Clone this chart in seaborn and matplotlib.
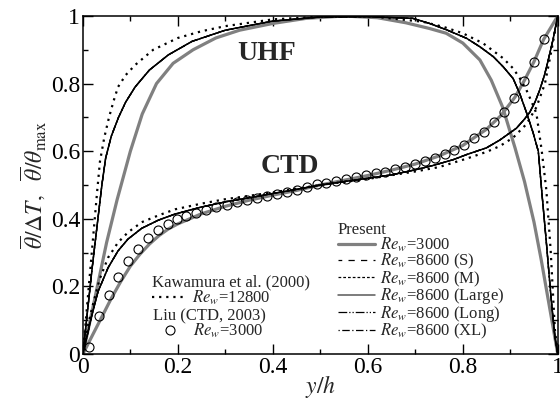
import matplotlib
matplotlib.use('Agg')
import numpy as np
import pandas as pd
import seaborn as sns
import matplotlib.pyplot as plt
from matplotlib.lines import Line2D
from matplotlib.ticker import MultipleLocator, FuncFormatter

# ---------------- data ----------------
# UHF, present Re_w=3000 (gray thick)
uhf3000_x = [0, 0.01, 0.02, 0.035, 0.05, 0.072, 0.1, 0.125, 0.155, 0.19, 0.232, 0.28, 0.33, 0.4, 0.47,
             0.55, 0.62, 0.68, 0.73, 0.765, 0.8, 0.836, 0.86, 0.884, 0.91, 0.93, 0.95, 0.965, 0.98, 0.99, 1.0]
uhf3000_y = [0, 0.065, 0.13, 0.23, 0.33, 0.456, 0.60, 0.71, 0.80, 0.86, 0.90, 0.935, 0.958, 0.978, 0.993,
             1.0, 0.995, 0.98, 0.963, 0.949, 0.92, 0.87, 0.81, 0.73, 0.61, 0.51, 0.39, 0.28, 0.16, 0.08, 0]

# UHF, present Re_w=8600 (all five boxes overlap)
uhf8600_x = [0, 0.01, 0.02, 0.03, 0.04, 0.048, 0.06, 0.075, 0.09, 0.11, 0.14, 0.18, 0.23, 0.3, 0.4, 0.5,
             0.6, 0.695, 0.73, 0.766, 0.808, 0.836, 0.864, 0.885, 0.906, 0.92, 0.934, 0.948, 0.959, 0.967,
             0.976, 0.985, 0.994, 1.0]
uhf8600_y = [0, 0.13, 0.26, 0.38, 0.50, 0.58, 0.645, 0.70, 0.745, 0.79, 0.84, 0.885, 0.925, 0.958, 0.985,
             0.997, 0.998, 0.993, 0.978, 0.959, 0.934, 0.909, 0.88, 0.85, 0.815, 0.77, 0.715, 0.655, 0.60,
             0.47, 0.33, 0.18, 0.05, 0]

# UHF, Kawamura et al. (2000) Re_w=12800
uhfKaw_x = [0, 0.01, 0.02, 0.03, 0.036, 0.045, 0.055, 0.065, 0.074, 0.09, 0.11, 0.148, 0.2, 0.25, 0.3, 0.4,
            0.5, 0.6, 0.716, 0.759, 0.8, 0.843, 0.885, 0.906, 0.92, 0.934, 0.945, 0.955, 0.966, 0.976, 0.985,
            0.994, 1.0]
uhfKaw_y = [0, 0.16, 0.32, 0.48, 0.57, 0.64, 0.70, 0.75, 0.79, 0.825, 0.855, 0.90, 0.935, 0.955, 0.97, 0.99,
            0.998, 1.0, 0.983, 0.968, 0.949, 0.919, 0.875, 0.845, 0.816, 0.781, 0.746, 0.712, 0.604, 0.485,
            0.308, 0.071, 0]

# CTD, present Re_w=3000 (gray thick)
ctd3000_x = [0, 0.02, 0.04, 0.06, 0.08, 0.1, 0.12, 0.14, 0.16, 0.18, 0.2, 0.25, 0.3, 0.35, 0.4, 0.45, 0.5,
             0.55, 0.6, 0.65, 0.7, 0.75, 0.8, 0.85, 0.88, 0.91, 0.93, 0.95, 0.97, 0.985, 1.0]
ctd3000_y = [0, 0.055, 0.11, 0.165, 0.215, 0.26, 0.295, 0.325, 0.35, 0.37, 0.385, 0.415, 0.437, 0.455, 0.47,
             0.484, 0.5, 0.514, 0.528, 0.544, 0.562, 0.586, 0.617, 0.665, 0.705, 0.76, 0.81, 0.865, 0.93,
             0.965, 1.0]

# CTD, present Re_w=8600
ctd8600_x = [0, 0.01, 0.018, 0.032, 0.053, 0.074, 0.095, 0.124, 0.159, 0.194, 0.25, 0.3, 0.35, 0.4, 0.45,
             0.5, 0.55, 0.6, 0.65, 0.7, 0.738, 0.78, 0.808, 0.85, 0.878, 0.9, 0.913, 0.93, 0.941, 0.952,
             0.962, 0.972, 0.98, 0.99, 1.0]
ctd8600_y = [0, 0.06, 0.11, 0.185, 0.255, 0.305, 0.34, 0.372, 0.396, 0.414, 0.435, 0.45, 0.462, 0.475, 0.487,
             0.5, 0.51, 0.52, 0.53, 0.545, 0.558, 0.575, 0.59, 0.61, 0.633, 0.655, 0.668, 0.695, 0.715, 0.745,
             0.781, 0.825, 0.87, 0.93, 1.0]

# CTD, Kawamura et al. (2000) Re_w=12800
ctdKaw_x = [0, 0.01, 0.02, 0.035, 0.053, 0.074, 0.095, 0.124, 0.159, 0.194, 0.25, 0.3, 0.35, 0.4, 0.5, 0.6,
            0.7, 0.75, 0.808, 0.85, 0.878, 0.906, 0.934, 0.955, 0.973, 0.987, 1.0]
ctdKaw_y = [0, 0.08, 0.14, 0.22, 0.285, 0.33, 0.36, 0.39, 0.41, 0.428, 0.445, 0.458, 0.468, 0.478, 0.5, 0.518,
            0.54, 0.553, 0.578, 0.598, 0.615, 0.64, 0.68, 0.73, 0.80, 0.90, 1.0]

# CTD, Liu (2003) Re_w=3000 (open circles)
liu_x = [0.0126, 0.034, 0.055, 0.075, 0.096, 0.117, 0.138, 0.159, 0.18, 0.199, 0.218, 0.239, 0.26, 0.281,
         0.303, 0.325, 0.346, 0.367, 0.388, 0.409, 0.43, 0.451, 0.471, 0.492, 0.512, 0.533, 0.554, 0.575,
         0.596, 0.617, 0.636, 0.657, 0.678, 0.699, 0.72, 0.741, 0.762, 0.782, 0.803, 0.824, 0.845, 0.866,
         0.887, 0.908, 0.929, 0.950, 0.971]
liu_y = [0.02, 0.112, 0.175, 0.229, 0.274, 0.312, 0.342, 0.367, 0.385, 0.398, 0.408, 0.418, 0.426, 0.434,
         0.442, 0.450, 0.456, 0.462, 0.467, 0.473, 0.479, 0.485, 0.493, 0.502, 0.507, 0.512, 0.517, 0.523,
         0.529, 0.535, 0.539, 0.546, 0.554, 0.562, 0.571, 0.581, 0.591, 0.604, 0.618, 0.638, 0.658, 0.685,
         0.715, 0.756, 0.808, 0.865, 0.932]

tick_values = [0, 0.2, 0.4, 0.6, 0.8, 1.0]

# ---------------- style ----------------
sns.set_theme(style='ticks')
plt.rcParams['font.family'] = ['Liberation Serif', 'DejaVu Serif']
plt.rcParams['mathtext.fontset'] = 'stix'
plt.rcParams['axes.linewidth'] = 1.1

GRAY = '0.5'
styles_8600 = {
    'S': dict(color='black', lw=0.9, ls=(2, (5, 5))),
    'M': dict(color='black', lw=0.9, ls=(0, (2.2, 1.6))),
    'Large': dict(color='0.35', lw=1.1, ls='-'),
    'Long': dict(color='black', lw=0.9, ls=(0, (7, 1.6, 1, 1.6, 1, 1.6))),
    'XL': dict(color='black', lw=0.9, ls=(0, (1, 2, 6, 2))),
}
kaw_style = dict(color='black', lw=1.6, ls=(0, (1.0, 2.2)))

fig, ax = plt.subplots(figsize=(5.6, 4), dpi=100)
fig.subplots_adjust(left=0.148, right=0.996, bottom=0.115, top=0.96)

def line(x, y, **kw):
    df = pd.DataFrame({'x': x, 'y': y})
    sns.lineplot(data=df, x='x', y='y', ax=ax, sort=False, errorbar=None,
                 color=kw['color'], linewidth=kw['lw'], linestyle=kw['ls'])

# present Re=3000 (gray thick)
line(uhf3000_x, uhf3000_y, color=GRAY, lw=2.3, ls='-')
line(ctd3000_x, ctd3000_y, color=GRAY, lw=2.3, ls='-')
# present Re=8600 five boxes
for key in ['Large', 'S', 'M', 'Long', 'XL']:
    st2 = dict(styles_8600[key])
    st2['color'] = 'black'
    line(uhf8600_x, uhf8600_y, **st2)
    line(ctd8600_x, ctd8600_y, **st2)
# Kawamura
line(uhfKaw_x, uhfKaw_y, **kaw_style)
line(ctdKaw_x, ctdKaw_y, **kaw_style)
# Liu circles
liu_df = pd.DataFrame({'x': liu_x, 'y': liu_y})
sns.lineplot(data=liu_df, x='x', y='y', ax=ax, sort=False, errorbar=None,
             linestyle='', marker='o', markersize=6.5, markerfacecolor='none',
             markeredgecolor='black', markeredgewidth=0.8, color='black')

ax.set_xlim(0, 1)
ax.set_ylim(0, 1)
ax.set_xticks(tick_values)
ax.set_yticks(tick_values)
ax.xaxis.set_minor_locator(MultipleLocator(0.1))
ax.yaxis.set_minor_locator(MultipleLocator(0.1))
fmt = FuncFormatter(lambda v, p: '%g' % round(v, 3))
ax.xaxis.set_major_formatter(fmt)
ax.yaxis.set_major_formatter(fmt)
ax.tick_params(which='both', direction='in', top=True, right=True, width=1.0, labelsize=17, colors='black')
ax.tick_params(which='major', length=7, pad=2)
ax.tick_params(which='minor', length=3.6)
for s in ax.spines.values():
    s.set_visible(True)
    s.set_color('black')

ax.set_xlabel(r'$y/h$', fontsize=17, labelpad=-3.5)
ax.set_ylabel(r'$\overline{\theta}/\mathit{\Delta}T,\ \ \overline{\theta}/\theta_{\max}$', fontsize=17, labelpad=2)

ax.text(0.387, 0.89, 'UHF', fontsize=20, fontweight='bold', ha='center', va='center')
ax.text(0.436, 0.556, 'CTD', fontsize=20, fontweight='bold', ha='center', va='center')

# legends
lfs = 12
h_present = [Line2D([], [], color=GRAY, lw=2.3)]
l_present = [r'$Re_w$=3000']
for key in ['S', 'M', 'Large', 'Long', 'XL']:
    st = styles_8600[key]
    h_present.append(Line2D([], [], color=st['color'], lw=st['lw'], ls=st['ls']))
    l_present.append(r'$Re_w$=8600 (%s)' % key)

common = dict(loc='upper left', frameon=False, fontsize=lfs, title_fontsize=lfs,
              labelspacing=-0.13, borderpad=0, borderaxespad=0, alignment='left')

leg1 = ax.legend(h_present, l_present, title='Present', bbox_to_anchor=(0.537, 0.39),
                 handlelength=2.2, handletextpad=0.3, **common)
ax.add_artist(leg1)

leg2 = ax.legend([Line2D([], [], color='black', lw=1.6, ls=(0, (1.0, 2.2)))],
                 [r'$Re_w$=12800'], title='Kawamura et al. (2000)',
                 bbox_to_anchor=(0.145, 0.235), handlelength=2.0, handletextpad=0.4, **common)
ax.add_artist(leg2)

leg3 = ax.legend([Line2D([], [], ls='', marker='o', markersize=6.5, markerfacecolor='none',
                         markeredgecolor='black', markeredgewidth=0.8)],
                 [r'$Re_w$=3000'], title='Liu (CTD, 2003)',
                 bbox_to_anchor=(0.148, 0.136), handlelength=2.0, handletextpad=0.4, **common)

fig.savefig('out.png', dpi=100)
